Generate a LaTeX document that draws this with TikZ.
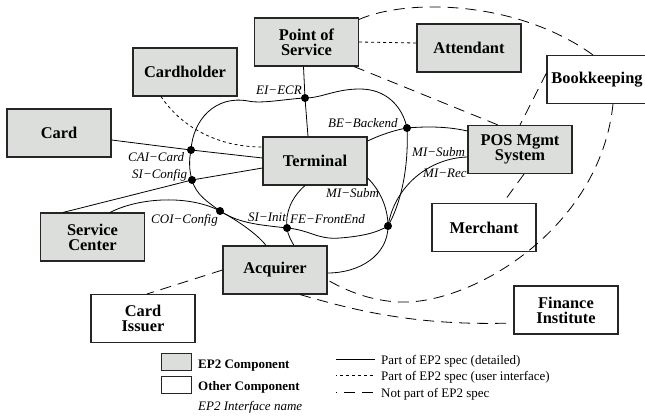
\documentclass[tikz,border=0pt]{standalone}
\usepackage{fontspec}
\setmainfont{Liberation Serif}
\definecolor{boxgray}{RGB}{220,222,219}
\begin{document}
\begin{tikzpicture}[x=1pt,y=-1pt,
  comp/.style={draw=black!85, line width=1.1pt, minimum width=104pt, minimum height=48pt, inner sep=0pt, align=center, font=\bfseries\fontsize{16.4}{15}\selectfont},
  ep2/.style={comp, fill=boxgray},
  other/.style={comp, fill=white},
  conn/.style={line width=0.8pt},
  uiline/.style={line width=0.8pt, dash pattern=on 3pt off 3pt},
  nopart/.style={line width=0.8pt, dash pattern=on 11pt off 7pt},
  jdot/.style={circle, fill=black, inner sep=0pt, minimum size=8pt},
  lbl/.style={font=\itshape\fontsize{13}{13}\selectfont, inner sep=0pt, anchor=base west},
  legtxt/.style={font=\fontsize{13}{13}\selectfont, inner sep=0pt, anchor=base west},
  legbox/.style={minimum width=30pt, minimum height=17pt, line width=1pt}]
\useasboundingbox (0,0) rectangle (645,415);

% components
\node[ep2] (pos) at (306.5,42) {Point of\\Service};
\node[ep2] (att) at (469,48) {Attendant};
\node[ep2] (ch) at (185,72) {Cardholder};
\node[ep2] (card) at (59,133) {Card};
\node[ep2] (term) at (315,161) {Terminal};
\node[other, minimum width=100pt] (book) at (597,79.5) {Bookkeeping};
\node[ep2] (pms) at (520,149.5) {POS Mgmt\\System};
\node[ep2] (sc) at (92.5,237) {Service\\Center};
\node[ep2] (acq) at (275,270) {Acquirer};
\node[other] (ci) at (143,318.5) {Card\\Issuer};
\node[other] (mer) at (484,227.5) {Merchant};
\node[other] (fi) at (566,310) {Finance\\Institute};

% junction dots
\node[jdot] (ei) at (305,98) {};
\node[jdot] (cai) at (191,150) {};
\node[jdot] (si) at (192,180) {};
\node[jdot] (coi) at (220,211) {};
\node[jdot] (fe) at (287,228) {};
\node[jdot] (mi) at (388,226) {};
\node[jdot] (be) at (407,128) {};

% ring
\draw[conn] (ei.center) .. controls (285,99) and (262,104) .. (248,101)
  .. controls (215,95) and (193,120) .. (cai.center)
  .. controls (189,160) and (189,170) .. (si.center)
  .. controls (196,195) and (208,202) .. (coi.center)
  .. controls (240,224) and (262,225) .. (fe.center)
  .. controls (310,230) and (318,240) .. (340,238)
  .. controls (365,236) and (378,232) .. (mi.center)
  .. controls (400,205) and (409,170) .. (be.center)
  .. controls (402,105) and (385,89) .. (360,89)
  .. controls (335,89) and (322,98) .. (ei.center);

% detailed interfaces
\draw[conn] ([yshift=-7pt]card.east) -- (cai.center) -- ([yshift=3pt]term.west);
\draw[conn] ([xshift=-29.5pt]sc.north) -- (si.center) -- ([yshift=-7pt]term.west);
\draw[conn] ([xshift=17.5pt]sc.north) .. controls (140,197) and (190,195) .. (coi.center)
  .. controls (240,222) and (258,235) .. ([xshift=-9pt]acq.north);
\draw[conn] ([xshift=-10pt]term.south) .. controls (292,197) and (285,212) .. (fe.center)
  .. controls (288,236) and (292,242) .. ([xshift=19pt]acq.north);
\draw[conn] ([yshift=-17pt]term.east) .. controls (380,190) and (388,208) .. (mi.center)
  .. controls (388,255) and (360,273) .. ([yshift=-3pt]acq.east);
\draw[conn] ([yshift=-7.5pt]pms.west) .. controls (430,158) and (395,185) .. (mi.center);
\draw[conn] ([yshift=20pt]term.east) .. controls (380,135) and (395,130) .. (be.center)
  .. controls (430,126) and (450,127) .. ([yshift=18.5pt]pms.west);
\draw[conn] ([xshift=-3pt]pos.south) -- (ei.center) -- ([xshift=-7pt]term.north);

% user interface
\draw[uiline] ([xshift=-24pt]ch.south) .. controls (180,125) and (215,147) .. ([yshift=14pt]term.west);
\draw[uiline] (pos.east) -- ([yshift=5pt]att.west);

% not part of EP2
\draw[nopart] ([yshift=-2pt]pos.north east) .. controls (405,-1) and (515,-1) .. ([xshift=-4pt]book.north);
\draw[nopart] ([xshift=-5pt]pos.south east) -- ([xshift=-22pt]pms.north);
\draw[nopart] ([yshift=6.5pt]book.west) -- (pms.north);
\draw[nopart] ([xshift=4pt]pms.south) -- ([xshift=19pt]mer.north);
\draw[nopart] ([xshift=16pt]book.south) .. controls (600,230) and (470,305) .. (400,302)
  .. controls (370,301) and (345,290) .. ([yshift=-10pt]acq.east);
\draw[nopart] ([xshift=25pt]acq.south) .. controls (360,312) and (420,326) .. ([yshift=-13pt]fi.west);
\draw[nopart] (acq.west) -- ([xshift=4pt]ci.north);

% interface labels
\node[lbl] (lei) at (256,94) {EI−ECR};
\node[lbl] (lcai) at (128,161) {CAI−Card};
\node[lbl] (lsic) at (132,178) {SI−Config};
\node[lbl] (lbe) at (328,127) {BE−Backend};
\node[lbl] (lmis1) at (412,156) {MI−Subm};
\node[lbl] (lmir) at (423,177) {MI−Rec};
\node[lbl] (lmis2) at (326,197) {MI−Subm};
\node[lbl] (lcoi) at (151,223) {COI−Config};
\node[lbl] (lsii) at (248,221) {SI−Init};
\node[lbl] (lfe) at (290,223) {FE−FrontEnd};

% legend
\node[ep2, legbox] (lgep) at (176,361.5) {};
\node[other, legbox] (lgot) at (176,384.5) {};
\node[legtxt, font=\bfseries\fontsize{13}{13}\selectfont] (lgept) at (198,368) {EP2 Component};
\node[legtxt, font=\bfseries\fontsize{13}{13}\selectfont] (lgott) at (198,390) {Other Component};
\node[lbl] (lgif) at (198,410) {EP2 Interface name};

\coordinate (l1a) at (336,359); \coordinate (l1b) at (375,359);
\coordinate (l2a) at (336,375); \coordinate (l2b) at (375,375);
\coordinate (l3a) at (336,392); \coordinate (l3b) at (375,392);
\draw[conn] (l1a) -- (l1b);
\draw[uiline, dash phase=2pt] (l2a) -- (l2b);
\draw[nopart, dash phase=10pt] (l3a) -- (l3b);
\node[legtxt] (l1t) at (381,364) {Part of EP2 spec (detailed)};
\node[legtxt] (l2t) at (381,380) {Part of EP2 spec (user interface)};
\node[legtxt] (l3t) at (381,397) {Not part of EP2 spec};
\end{tikzpicture}
\end{document}
